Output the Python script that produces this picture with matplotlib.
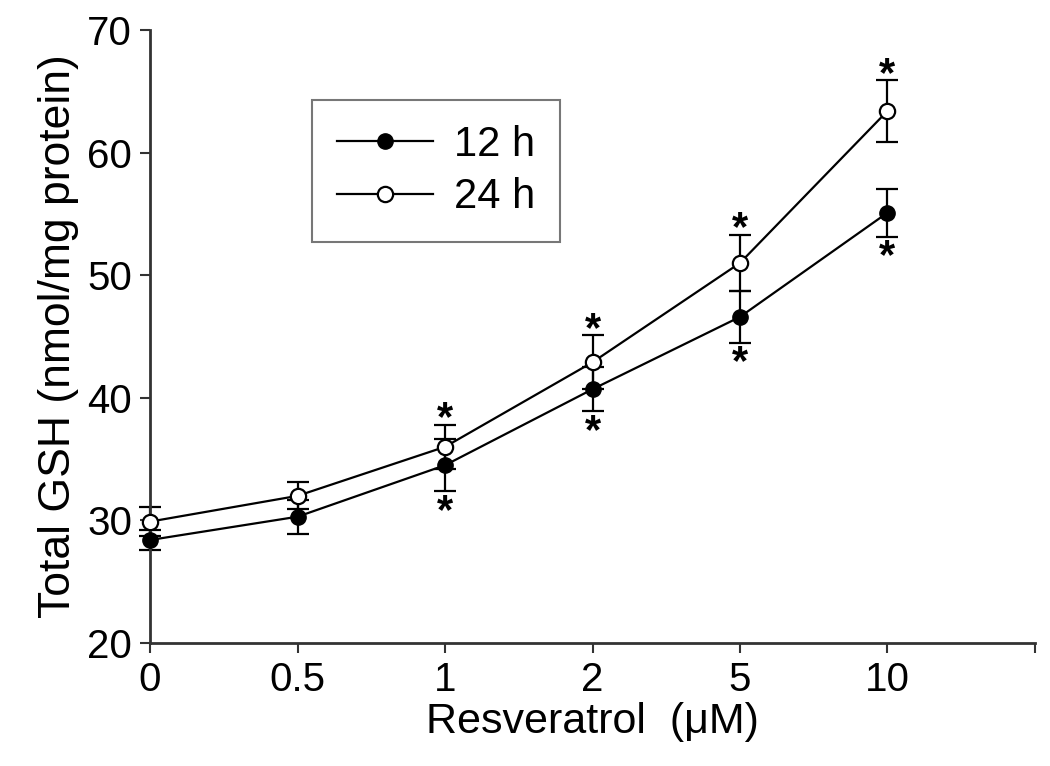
import matplotlib
matplotlib.use("Agg")
import matplotlib.pyplot as plt

plt.rcParams['font.family'] = ['Liberation Sans', 'DejaVu Sans']

# ---- data ----
doses = ['0', '0.5', '1', '2', '5', '10']
gsh_12h = [28.4, 30.3, 34.5, 40.7, 46.6, 55.1]
err_12h = [0.8, 1.4, 2.1, 1.8, 2.1, 1.95]
gsh_24h = [29.9, 32.0, 36.0, 42.9, 51.0, 63.4]
err_24h = [1.2, 1.1, 1.8, 2.2, 2.3, 2.5]
signif = [2, 3, 4, 5]   # indices marked with *

xpos = list(range(len(doses)))

fig = plt.figure(figsize=(10.5, 7.66), dpi=100)
ax = fig.add_axes([0.1429, 0.1606, 0.8428, 0.8002])

# error bars first, then lines + markers on top
ax.errorbar(xpos, gsh_12h, yerr=err_12h, fmt='none', ecolor='black',
            elinewidth=1.6, capsize=8, capthick=1.6, clip_on=False, zorder=2)
ax.errorbar(xpos, gsh_24h, yerr=err_24h, fmt='none', ecolor='black',
            elinewidth=1.6, capsize=8, capthick=1.6, clip_on=False, zorder=2)
ax.plot(xpos, gsh_12h, '-o', color='black', mfc='black', mec='black',
        ms=11, lw=1.6, clip_on=False, label='12 h', zorder=3)
ax.plot(xpos, gsh_24h, '-o', color='black', mfc='white', mec='black',
        mew=1.6, ms=11, lw=1.6, clip_on=False, label='24 h', zorder=4)

# significance stars (24 h above, 12 h below)
for i in signif:
    ax.annotate('*', xy=(i, gsh_24h[i] + err_24h[i]), xytext=(0, -4),
                textcoords='offset points', ha='center', va='baseline',
                fontsize=30, fontweight='bold')
    ax.annotate('*', xy=(i, gsh_12h[i] - err_12h[i]), xytext=(0, -23),
                textcoords='offset points', ha='center', va='baseline',
                fontsize=30, fontweight='bold')

ax.set_xlim(0, 6)
ax.set_ylim(20, 70)
ax.set_xticks(list(range(7)))
ax.set_xticklabels(doses + [''])
ax.set_yticks([20, 30, 40, 50, 60, 70])

for s in ['top', 'right']:
    ax.spines[s].set_visible(False)
for s in ['left', 'bottom']:
    ax.spines[s].set_linewidth(2)
    ax.spines[s].set_color('#333333')

ax.tick_params(direction='out', length=7, width=1.5, color='#333333',
               labelsize=29, pad=6)

ax.set_xlabel('Resveratrol  (\u03bcM)', fontsize=31, labelpad=2)
ax.set_ylabel('Total GSH (nmol/mg protein)', fontsize=32, labelpad=6)

leg = ax.legend(loc='upper left', bbox_to_anchor=(0.183, 0.886), fontsize=30,
                frameon=True, fancybox=False, handlelength=2.3,
                borderpad=0.6, labelspacing=0.3, handletextpad=0.5,
                borderaxespad=0)
leg.get_frame().set_edgecolor('#555555')
leg.get_frame().set_linewidth(1.5)

fig.savefig('out.png', dpi=100)
